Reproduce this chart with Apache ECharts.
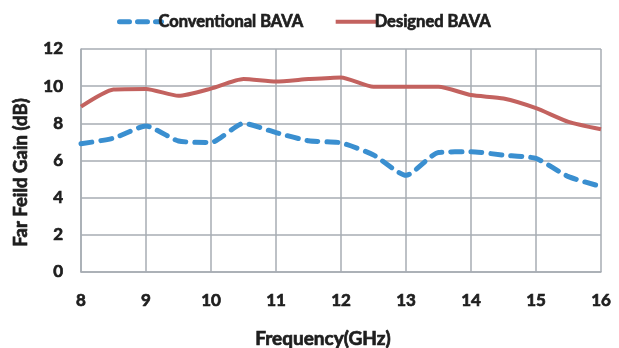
<!DOCTYPE html>
<html>
<head>
<meta charset="utf-8">
<script src="https://cdn.jsdelivr.net/npm/echarts@6/dist/echarts.min.js"></script>
<style>
  html, body { margin: 0; padding: 0; background: #fff; }
  #chart { width: 619px; height: 348px; }
</style>
</head>
<body>
<div id="chart"></div>
<script>
// Frequency sweep (GHz) and far-field gain (dB) for each antenna
const freqs = [8, 8.5, 9, 9.5, 10, 10.5, 11, 11.5, 12, 12.5, 13, 13.5, 14, 14.5, 15, 15.5, 16];
const conventionalGain = [6.9, 7.2, 7.85, 7.05, 6.97, 8.0, 7.5, 7.06, 6.95, 6.3, 5.2, 6.43, 6.47, 6.29, 6.11, 5.13, 4.6];
const designedGain = [8.9, 9.82, 9.85, 9.48, 9.87, 10.38, 10.25, 10.38, 10.47, 9.97, 9.97, 9.97, 9.52, 9.34, 8.82, 8.08, 7.68];
const seriesNames = ['Conventional BAVA', 'Designed BAVA'];

const font = 'Lato, "Open Sans", sans-serif';
const gridColor = '#a7acb3';
const textColor = '#1e1e1e';
const blue = '#3a8fd0';
const red = '#c3625f';

// heavy bold text, similar to the report's typeface
const heavy = (size) => ({
  fontFamily: font, fontWeight: 'bold', fontSize: size, color: textColor,
  textBorderColor: textColor, textBorderWidth: 0.7
});

const pairs = (ys) => freqs.map((f, i) => [f, ys[i]]);

const chart = echarts.init(document.getElementById('chart'));
chart.setOption({
  animation: false,
  backgroundColor: '#fff',
  textStyle: { fontFamily: font },
  legend: {
    top: 8,
    left: 112,
    itemGap: 30,
    itemWidth: 42,
    itemHeight: 12,
    itemStyle: { opacity: 0 },
    textStyle: Object.assign(heavy(16.5), { padding: [0, 0, 0, -8] }),
    data: [
      { name: seriesNames[0], lineStyle: { width: 5, type: [10, 8], cap: 'round' } },
      { name: seriesNames[1], lineStyle: { width: 4 } }
    ]
  },
  grid: { left: 81, right: 18, top: 49, bottom: 76, outerBoundsMode: 'none', containLabel: false },
  xAxis: {
    type: 'value',
    min: 8, max: 16, interval: 1,
    name: 'Frequency(GHz)',
    nameLocation: 'middle',
    nameGap: 57,
    nameTextStyle: Object.assign(heavy(19), { padding: [0, 36, 0, 0] }),
    axisLine: { show: true, lineStyle: { color: gridColor, width: 1.5 } },
    axisTick: { show: false },
    axisLabel: Object.assign(heavy(17), { margin: 20 }),
    splitLine: { show: true, lineStyle: { color: gridColor, width: 1.5 } }
  },
  yAxis: {
    type: 'value',
    min: 0, max: 12, interval: 2,
    name: 'Far Feild Gain (dB)',
    nameLocation: 'middle',
    nameGap: 50,
    nameTextStyle: Object.assign(heavy(18.5), { padding: [0, 24, 0, 0] }),
    axisLine: { show: true, lineStyle: { color: gridColor, width: 1.5 } },
    axisTick: { show: false },
    axisLabel: Object.assign(heavy(17), { margin: 18 }),
    splitLine: { show: true, lineStyle: { color: gridColor, width: 1.5 } }
  },
  series: [
    {
      name: seriesNames[0],
      type: 'line',
      data: pairs(conventionalGain),
      showSymbol: false,
      symbol: 'none',
      smooth: 0.2,
      color: blue,
      lineStyle: { color: blue, width: 5, type: [11, 9], cap: 'round' },
      z: 3
    },
    {
      name: seriesNames[1],
      type: 'line',
      data: pairs(designedGain),
      showSymbol: false,
      symbol: 'none',
      smooth: 0.2,
      color: red,
      lineStyle: { color: red, width: 4 },
      z: 2
    }
  ]
});
</script>
</body>
</html>
